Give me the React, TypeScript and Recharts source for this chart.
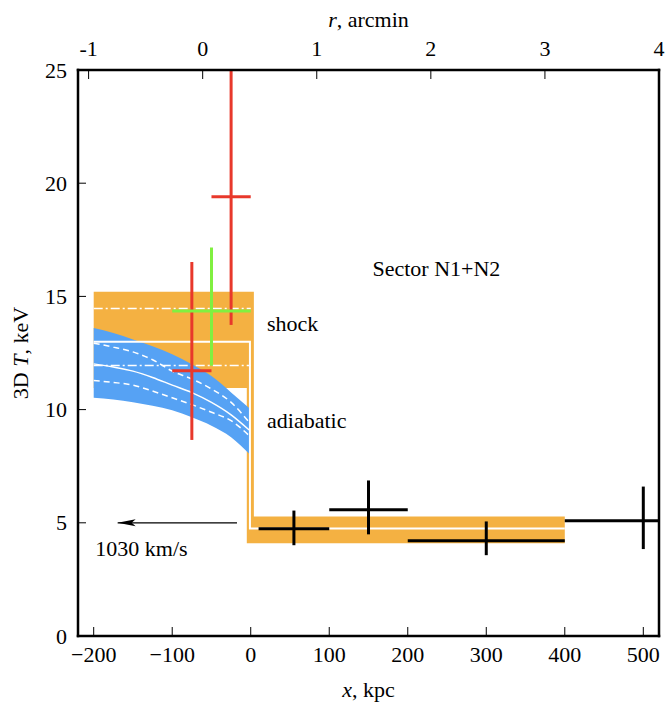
import React from 'react';
import { ComposedChart, XAxis, YAxis, Area, Line, Scatter, ErrorBar, ReferenceDot } from 'recharts';

const FONT = '"Liberation Serif", "Times New Roman", serif';
const ORANGE = '#F4B142';
const BLUE = '#56A2F4';
const RED = '#E8382B';
const GREEN = '#80F040';

// axes
const X_TICKS = [-200, -100, 0, 100, 200, 300, 400, 500];
const R_TICKS = [-1, 0, 1, 2, 3, 4];
const Y_TICKS = [0, 5, 10, 15, 20, 25];
const R_RANGE = [-1.093, 4.0];

// shock model band
const shockX = [-200, -5, -5, 4, 4, 400];
const shockLow = [10.95, 10.95, 4.1, 4.1, 4.1, 4.1];
const shockHigh = [15.2, 15.2, 15.2, 15.2, 5.28, 5.28];

// shock model central line
const shockLineX = [-200, -1, -1, 400];
const shockLineT = [13.0, 13.0, 4.75, 4.75];

// dash-dot lines
const dashDotX = [-200, 0];
const dashDotUpper = [14.47, 14.47];
const dashDotLower = [11.95, 11.95];

// adiabatic band
const adiaX = [-200, -175, -150, -125, -100, -75, -50, -25, -2];
const adiaTop = [13.6, 13.38, 13.1, 12.8, 12.45, 12.0, 11.48, 10.76, 10.07];
const adiaUpperDash = [12.93, 12.76, 12.55, 12.2, 11.7, 11.35, 10.91, 10.32, 9.44];
const adiaMid = [12.02, 11.88, 11.7, 11.42, 11.08, 10.75, 10.32, 9.77, 9.1];
const adiaLowerDash = [11.28, 11.2, 11.08, 10.82, 10.52, 10.22, 9.88, 9.51, 8.85];
const adiaBottom = [10.52, 10.45, 10.33, 10.17, 9.97, 9.66, 9.29, 8.78, 8.05];

// measurements
const redX = [-75, -25];
const redXLo = [-100, -50];
const redXHi = [-50, 0];
const redT = [11.72, 19.4];
const redTLo = [8.66, 13.74];
const redTHi = [16.52, 25];

const greenX = [-50];
const greenXLo = [-100];
const greenXHi = [0];
const greenT = [14.35];
const greenTLo = [11.94];
const greenTHi = [17.16];

const blackX = [55, 150, 300, 500];
const blackXLo = [10, 100, 200, 400];
const blackXHi = [100, 200, 400, 520];
const blackT = [4.74, 5.58, 4.21, 5.09];
const blackTLo = [4.01, 4.49, 3.57, 3.84];
const blackTHi = [5.54, 6.87, 5.06, 6.6];

// arrow
const arrowX = [-17.5, -169.5];
const arrowT = [5.0, 5.0];

// annotations
const labels = [
  { x: 155, t: 15.9, text: 'Sector N1+N2' },
  { x: 20.8, t: 13.49, text: 'shock' },
  { x: 20.8, t: 9.18, text: 'adiabatic' },
  { x: -198, t: 3.52, text: '1030 km/s' },
];

const lineData = (xs: number[], ts: number[]) => xs.map((x, i) => ({ x, t: ts[i] }));
const bandData = (xs: number[], lo: number[], hi: number[]) => xs.map((x, i) => ({ x, range: [lo[i], hi[i]] }));
const pointData = (xs: number[], xl: number[], xh: number[], ts: number[], tl: number[], th: number[]) =>
  xs.map((x, i) => ({ x, t: ts[i], ex: [x - xl[i], xh[i] - x], et: [ts[i] - tl[i], th[i] - ts[i]] }));

const shockBand = bandData(shockX, shockLow, shockHigh);
const adiaBand = bandData(adiaX, adiaBottom, adiaTop);
const redPts = pointData(redX, redXLo, redXHi, redT, redTLo, redTHi);
const greenPts = pointData(greenX, greenXLo, greenXHi, greenT, greenTLo, greenTHi);
const blackPts = pointData(blackX, blackXLo, blackXHi, blackT, blackTLo, blackTHi);
const topAnchor = R_RANGE.map((x) => ({ x, t: 0 }));

const textProps = { fontFamily: FONT, fontSize: 22, fill: '#000' };

const BottomTick = (props: any) => {
  const v = props.payload.value;
  const s = v < 0 ? `\u2212${Math.abs(v)}` : `${v}`;
  return (
    <text x={props.x} y={props.y + 35} textAnchor="middle" {...textProps}>
      {s}
    </text>
  );
};
const TopTick = (props: any) => (
  <text x={props.x} y={props.y - 23} textAnchor="middle" {...textProps}>
    {`${props.payload.value}`}
  </text>
);
const LeftTick = (props: any) => (
  <text x={props.x - 19} y={props.y + 7.5} textAnchor="end" {...textProps}>
    {`${props.payload.value}`}
  </text>
);

const ArrowHead = (props: any) => {
  const { cx, cy, index } = props;
  if (index !== 1) return <g key={`ah${index}`} />;
  return (
    <path
      key="ahead"
      d={`M${cx},${cy} L${cx + 18},${cy - 3.5} L${cx + 14},${cy} L${cx + 18},${cy + 3.5} Z`}
      fill="#000"
    />
  );
};

const NoShape = () => <g />;

const axisLine = { stroke: '#000', strokeWidth: 2.5, strokeLinecap: 'square' as const };
const tickLine = { stroke: '#000', strokeWidth: 1 };

export default function App() {
  return (
    <div style={{ position: 'absolute', left: 0, top: 0, width: 672, height: 706, background: '#fff' }}>
      <ComposedChart width={672} height={706} margin={{ top: 40, right: 3, bottom: 40, left: 18 }}>
        <XAxis
          xAxisId={0}
          dataKey="x"
          type="number"
          domain={[-220, 520]}
          allowDataOverflow
          ticks={X_TICKS}
          interval={0}
          height={30}
          tickSize={-9}
          tickMargin={0}
          axisLine={axisLine}
          tickLine={tickLine}
          tick={BottomTick}
          label={{
            content: (p: any) => {
              const vb = p.viewBox || { x: 78, y: 636, width: 581 };
              return (
                <text x={vb.x + vb.width / 2} y={vb.y + 61} textAnchor="middle" {...textProps}>
                  <tspan fontStyle="italic">x</tspan>, kpc
                </text>
              );
            },
          }}
        />
        <XAxis
          xAxisId="top"
          dataKey="x"
          orientation="top"
          type="number"
          domain={R_RANGE}
          allowDataOverflow
          ticks={R_TICKS}
          interval={0}
          height={30}
          tickSize={-9}
          tickMargin={0}
          axisLine={axisLine}
          tickLine={tickLine}
          tick={TopTick}
          label={{
            content: (p: any) => {
              const vb = p.viewBox || { x: 78, y: 40, width: 581 };
              return (
                <text x={vb.x + vb.width / 2} y={vb.y - 13} textAnchor="middle" {...textProps}>
                  <tspan fontStyle="italic">r</tspan>, arcmin
                </text>
              );
            },
          }}
        />
        <YAxis
          yAxisId={0}
          type="number"
          domain={[0, 25]}
          allowDataOverflow
          ticks={Y_TICKS}
          interval={0}
          width={60}
          tickSize={-8}
          tickMargin={0}
          axisLine={axisLine}
          tickLine={tickLine}
          tick={LeftTick}
          label={{
            content: (p: any) => {
              const vb = p.viewBox || { x: 18, y: 70, width: 60, height: 566 };
              const cx = vb.x + 10;
              const cy = vb.y + vb.height / 2;
              return (
                <text x={cx} y={cy} textAnchor="middle" transform={`rotate(-90, ${cx}, ${cy})`} {...textProps}>
                  3D <tspan fontStyle="italic">T</tspan>, keV
                </text>
              );
            },
          }}
        />
        <YAxis
          yAxisId="right"
          orientation="right"
          type="number"
          domain={[0, 25]}
          allowDataOverflow
          ticks={Y_TICKS}
          interval={0}
          width={10}
          tickSize={-8}
          axisLine={axisLine}
          tickLine={tickLine}
          tick={false}
        />

        <Scatter xAxisId="top" data={topAnchor} dataKey="t" shape={NoShape} isAnimationActive={false} />

        <Area
          data={shockBand}
          dataKey="range"
          type="linear"
          stroke="none"
          fill={ORANGE}
          fillOpacity={1}
          isAnimationActive={false}
          activeDot={false}
        />
        <Area
          data={adiaBand}
          dataKey="range"
          type="monotone"
          stroke="none"
          fill={BLUE}
          fillOpacity={1}
          isAnimationActive={false}
          activeDot={false}
        />

        <Line data={lineData(dashDotX, dashDotUpper)} dataKey="t" type="linear" stroke="#fff" strokeWidth={1.5} strokeDasharray="9 3 2 3" dot={false} isAnimationActive={false} />
        <Line data={lineData(dashDotX, dashDotLower)} dataKey="t" type="linear" stroke="#fff" strokeWidth={1.5} strokeDasharray="9 3 2 3" dot={false} isAnimationActive={false} />
        <Line data={lineData(adiaX, adiaUpperDash)} dataKey="t" type="monotone" stroke="#fff" strokeWidth={1.5} strokeDasharray="6 4" dot={false} isAnimationActive={false} />
        <Line data={lineData(adiaX, adiaMid)} dataKey="t" type="monotone" stroke="#fff" strokeWidth={1.5} dot={false} isAnimationActive={false} />
        <Line data={lineData(adiaX, adiaLowerDash)} dataKey="t" type="monotone" stroke="#fff" strokeWidth={1.5} strokeDasharray="6 4" dot={false} isAnimationActive={false} />
        <Line data={lineData(shockLineX, shockLineT)} dataKey="t" type="linear" stroke="#fff" strokeWidth={2} dot={false} isAnimationActive={false} />

        <Line data={lineData(arrowX, arrowT)} dataKey="t" type="linear" stroke="#000" strokeWidth={1.2} dot={ArrowHead} isAnimationActive={false} />

        <Scatter data={redPts} dataKey="t" shape={NoShape} isAnimationActive={false}>
          <ErrorBar dataKey="ex" direction="x" width={0} stroke={RED} strokeWidth={3} />
          <ErrorBar dataKey="et" direction="y" width={0} stroke={RED} strokeWidth={3} />
        </Scatter>
        <Scatter data={greenPts} dataKey="t" shape={NoShape} isAnimationActive={false}>
          <ErrorBar dataKey="ex" direction="x" width={0} stroke={GREEN} strokeWidth={3} />
          <ErrorBar dataKey="et" direction="y" width={0} stroke={GREEN} strokeWidth={3} />
        </Scatter>
        <Scatter data={blackPts} dataKey="t" shape={NoShape} isAnimationActive={false}>
          <ErrorBar dataKey="ex" direction="x" width={0} stroke="#000" strokeWidth={3} />
          <ErrorBar dataKey="et" direction="y" width={0} stroke="#000" strokeWidth={3} />
        </Scatter>

        {labels.map((l) => (
          <ReferenceDot
            key={l.text}
            x={l.x}
            y={l.t}
            r={0}
            ifOverflow="visible"
            shape={(p: any) => (
              <text x={p.cx} y={p.cy} textAnchor="start" {...textProps}>
                {l.text}
              </text>
            )}
          />
        ))}
      </ComposedChart>
    </div>
  );
}
